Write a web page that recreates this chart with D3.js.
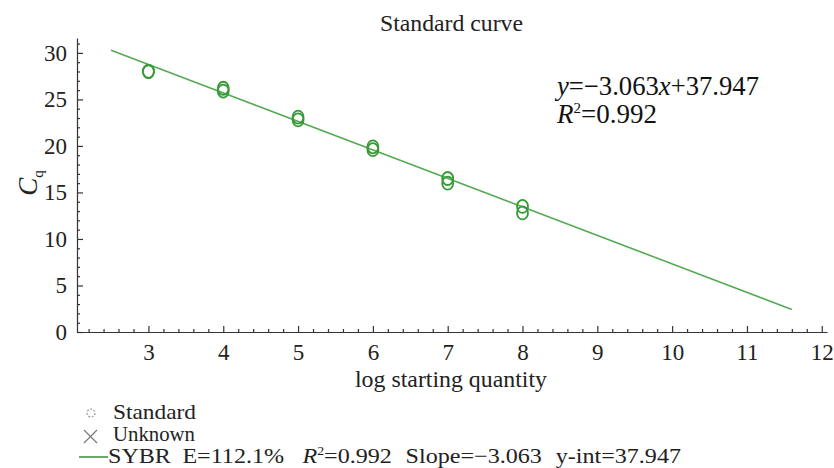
<!DOCTYPE html>
<html>
<head>
<meta charset="utf-8">
<script src="https://cdn.jsdelivr.net/npm/d3@7"></script>
<style>
  body { margin: 0; background: #fff; }
  svg { display: block; }
</style>
</head>
<body>
<svg id="chart" width="834" height="468"></svg>
<script>
// data
const logQty = [3, 3, 4, 4, 5, 5, 6, 6, 7, 7, 8, 8];
const cqValues = [28.0, 28.0, 26.2, 25.9, 23.1, 22.8, 19.9, 19.6, 16.5, 16.0, 13.5, 12.8];
// fitted line end points (y = -3.063x + 37.947)
const fitX = [2.5, 11.6];
const fitY = [30.29, 2.42];
const xTicks = [3, 4, 5, 6, 7, 8, 9, 10, 11, 12];
const yTicks = [0, 5, 10, 15, 20, 25, 30];

const font = "'Liberation Serif', 'Times New Roman', 'Liberation Sans', sans-serif";
const svg = d3.select("#chart").attr("font-family", font);
const x = d3.scaleLinear().domain([2.045, 12.07]).range([77, 827]);
const y = d3.scaleLinear().domain([0, 31.6]).range([332, 38]);

const minorX = d3.range(22, 121, 2).map(d => d / 10).filter(d => !xTicks.includes(d));
const minorY = d3.range(1, 32).filter(d => !yTicks.includes(d));

// title
svg.append("text")
    .attr("x", 380).attr("y", 31)
    .attr("font-size", 23)
    .attr("textLength", 143)
    .attr("lengthAdjust", "spacingAndGlyphs")
    .attr("fill", "#222")
    .text("Standard curve");

// x axis
const gx = svg.append("g").attr("transform", "translate(0," + y(0) + ")");
gx.append("g")
    .call(d3.axisBottom(x).tickValues(minorX).tickSize(-3).tickSizeOuter(0).tickFormat(""))
    .call(g => g.select(".domain").remove());
gx.append("g")
    .call(d3.axisBottom(x).tickValues(xTicks).tickSize(-6).tickSizeOuter(0).tickPadding(12).tickFormat(d3.format("d")))
    .attr("font-family", font)
    .attr("font-size", 23);

// y axis
const gy = svg.append("g").attr("transform", "translate(" + x.range()[0] + ",0)");
gy.append("g")
    .call(d3.axisLeft(y).tickValues(minorY).tickSize(-3).tickSizeOuter(0).tickFormat(""))
    .call(g => g.select(".domain").remove());
gy.append("g")
    .call(d3.axisLeft(y).tickValues(yTicks).tickSize(-6).tickSizeOuter(0).tickPadding(10).tickFormat(d3.format("d")))
    .attr("font-family", font)
    .attr("font-size", 23);

svg.selectAll(".domain, .tick line").attr("stroke", "#333").attr("stroke-width", 1.2);
svg.selectAll(".tick text").attr("fill", "#222");

// axis labels
svg.append("text")
    .attr("x", 355).attr("y", 387)
    .attr("font-size", 23)
    .attr("textLength", 192)
    .attr("lengthAdjust", "spacingAndGlyphs")
    .attr("fill", "#222")
    .text("log starting quantity");

const yl = svg.append("text")
    .attr("transform", "translate(37,183) rotate(-90)")
    .attr("text-anchor", "middle")
    .attr("font-size", 27)
    .attr("fill", "#222");
yl.append("tspan").attr("font-style", "italic").text("C");
yl.append("tspan").attr("font-size", 15).attr("dy", 6).text("q");

// fit line
svg.append("path")
    .datum(d3.zip(fitX, fitY))
    .attr("fill", "none")
    .attr("stroke", "#55aa55")
    .attr("stroke-width", 1.6)
    .attr("d", d3.line().x(d => x(d[0])).y(d => y(d[1])));

// standards
svg.selectAll(".pt")
    .data(d3.zip(logQty, cqValues))
    .enter().append("ellipse")
    .attr("class", "pt")
    .attr("cx", d => x(d[0]))
    .attr("cy", d => y(d[1]))
    .attr("rx", 5.5)
    .attr("ry", 6.5)
    .attr("fill", "none")
    .attr("stroke", "#379a37")
    .attr("stroke-width", 1.8);

// equation
const eq = svg.append("text").attr("x", 557).attr("y", 95).attr("font-size", 27).attr("fill", "#111")
    .attr("textLength", 202).attr("lengthAdjust", "spacingAndGlyphs");
eq.append("tspan").attr("font-style", "italic").text("y");
eq.append("tspan").text("=\u22123.063");
eq.append("tspan").attr("font-style", "italic").text("x");
eq.append("tspan").text("+37.947");
const r2 = svg.append("text").attr("x", 557).attr("y", 123).attr("font-size", 27).attr("fill", "#111");
r2.append("tspan").attr("font-style", "italic").text("R");
r2.append("tspan").attr("font-size", 15).attr("dy", -10).text("2");
r2.append("tspan").attr("dy", 10).text("=0.992");

// legend
svg.append("circle")
    .attr("cx", 91).attr("cy", 413).attr("r", 4)
    .attr("fill", "none").attr("stroke", "#999").attr("stroke-width", 1.2)
    .attr("stroke-dasharray", "2,1.5");
svg.append("path")
    .attr("d", "M84,430L97,443M97,430L84,443")
    .attr("stroke", "#777").attr("stroke-width", 1.2);
svg.append("line")
    .attr("x1", 79).attr("x2", 108).attr("y1", 457).attr("y2", 457)
    .attr("stroke", "#3a8a3a").attr("stroke-width", 1.5);

const legendFont = 21;
svg.append("text").attr("x", 113).attr("y", 419).attr("font-size", legendFont).attr("fill", "#222")
    .attr("textLength", 83).attr("lengthAdjust", "spacingAndGlyphs").text("Standard");
svg.append("text").attr("x", 113).attr("y", 441).attr("font-size", legendFont).attr("fill", "#222")
    .attr("textLength", 82).attr("lengthAdjust", "spacingAndGlyphs").text("Unknown");
const leg = svg.append("text").attr("x", 108).attr("y", 463).attr("font-size", legendFont).attr("fill", "#222")
    .attr("textLength", 573).attr("lengthAdjust", "spacingAndGlyphs");
leg.append("tspan").text("SYBR");
leg.append("tspan").attr("dx", 10).text("E=112.1%");
leg.append("tspan").attr("dx", 16).attr("font-style", "italic").text("R");
leg.append("tspan").attr("font-size", 12).attr("dy", -8).text("2");
leg.append("tspan").attr("dy", 8).text("=0.992");
leg.append("tspan").attr("dx", 12).text("Slope=\u22123.063");
leg.append("tspan").attr("dx", 12).text("y-int=37.947");
</script>
</body>
</html>
